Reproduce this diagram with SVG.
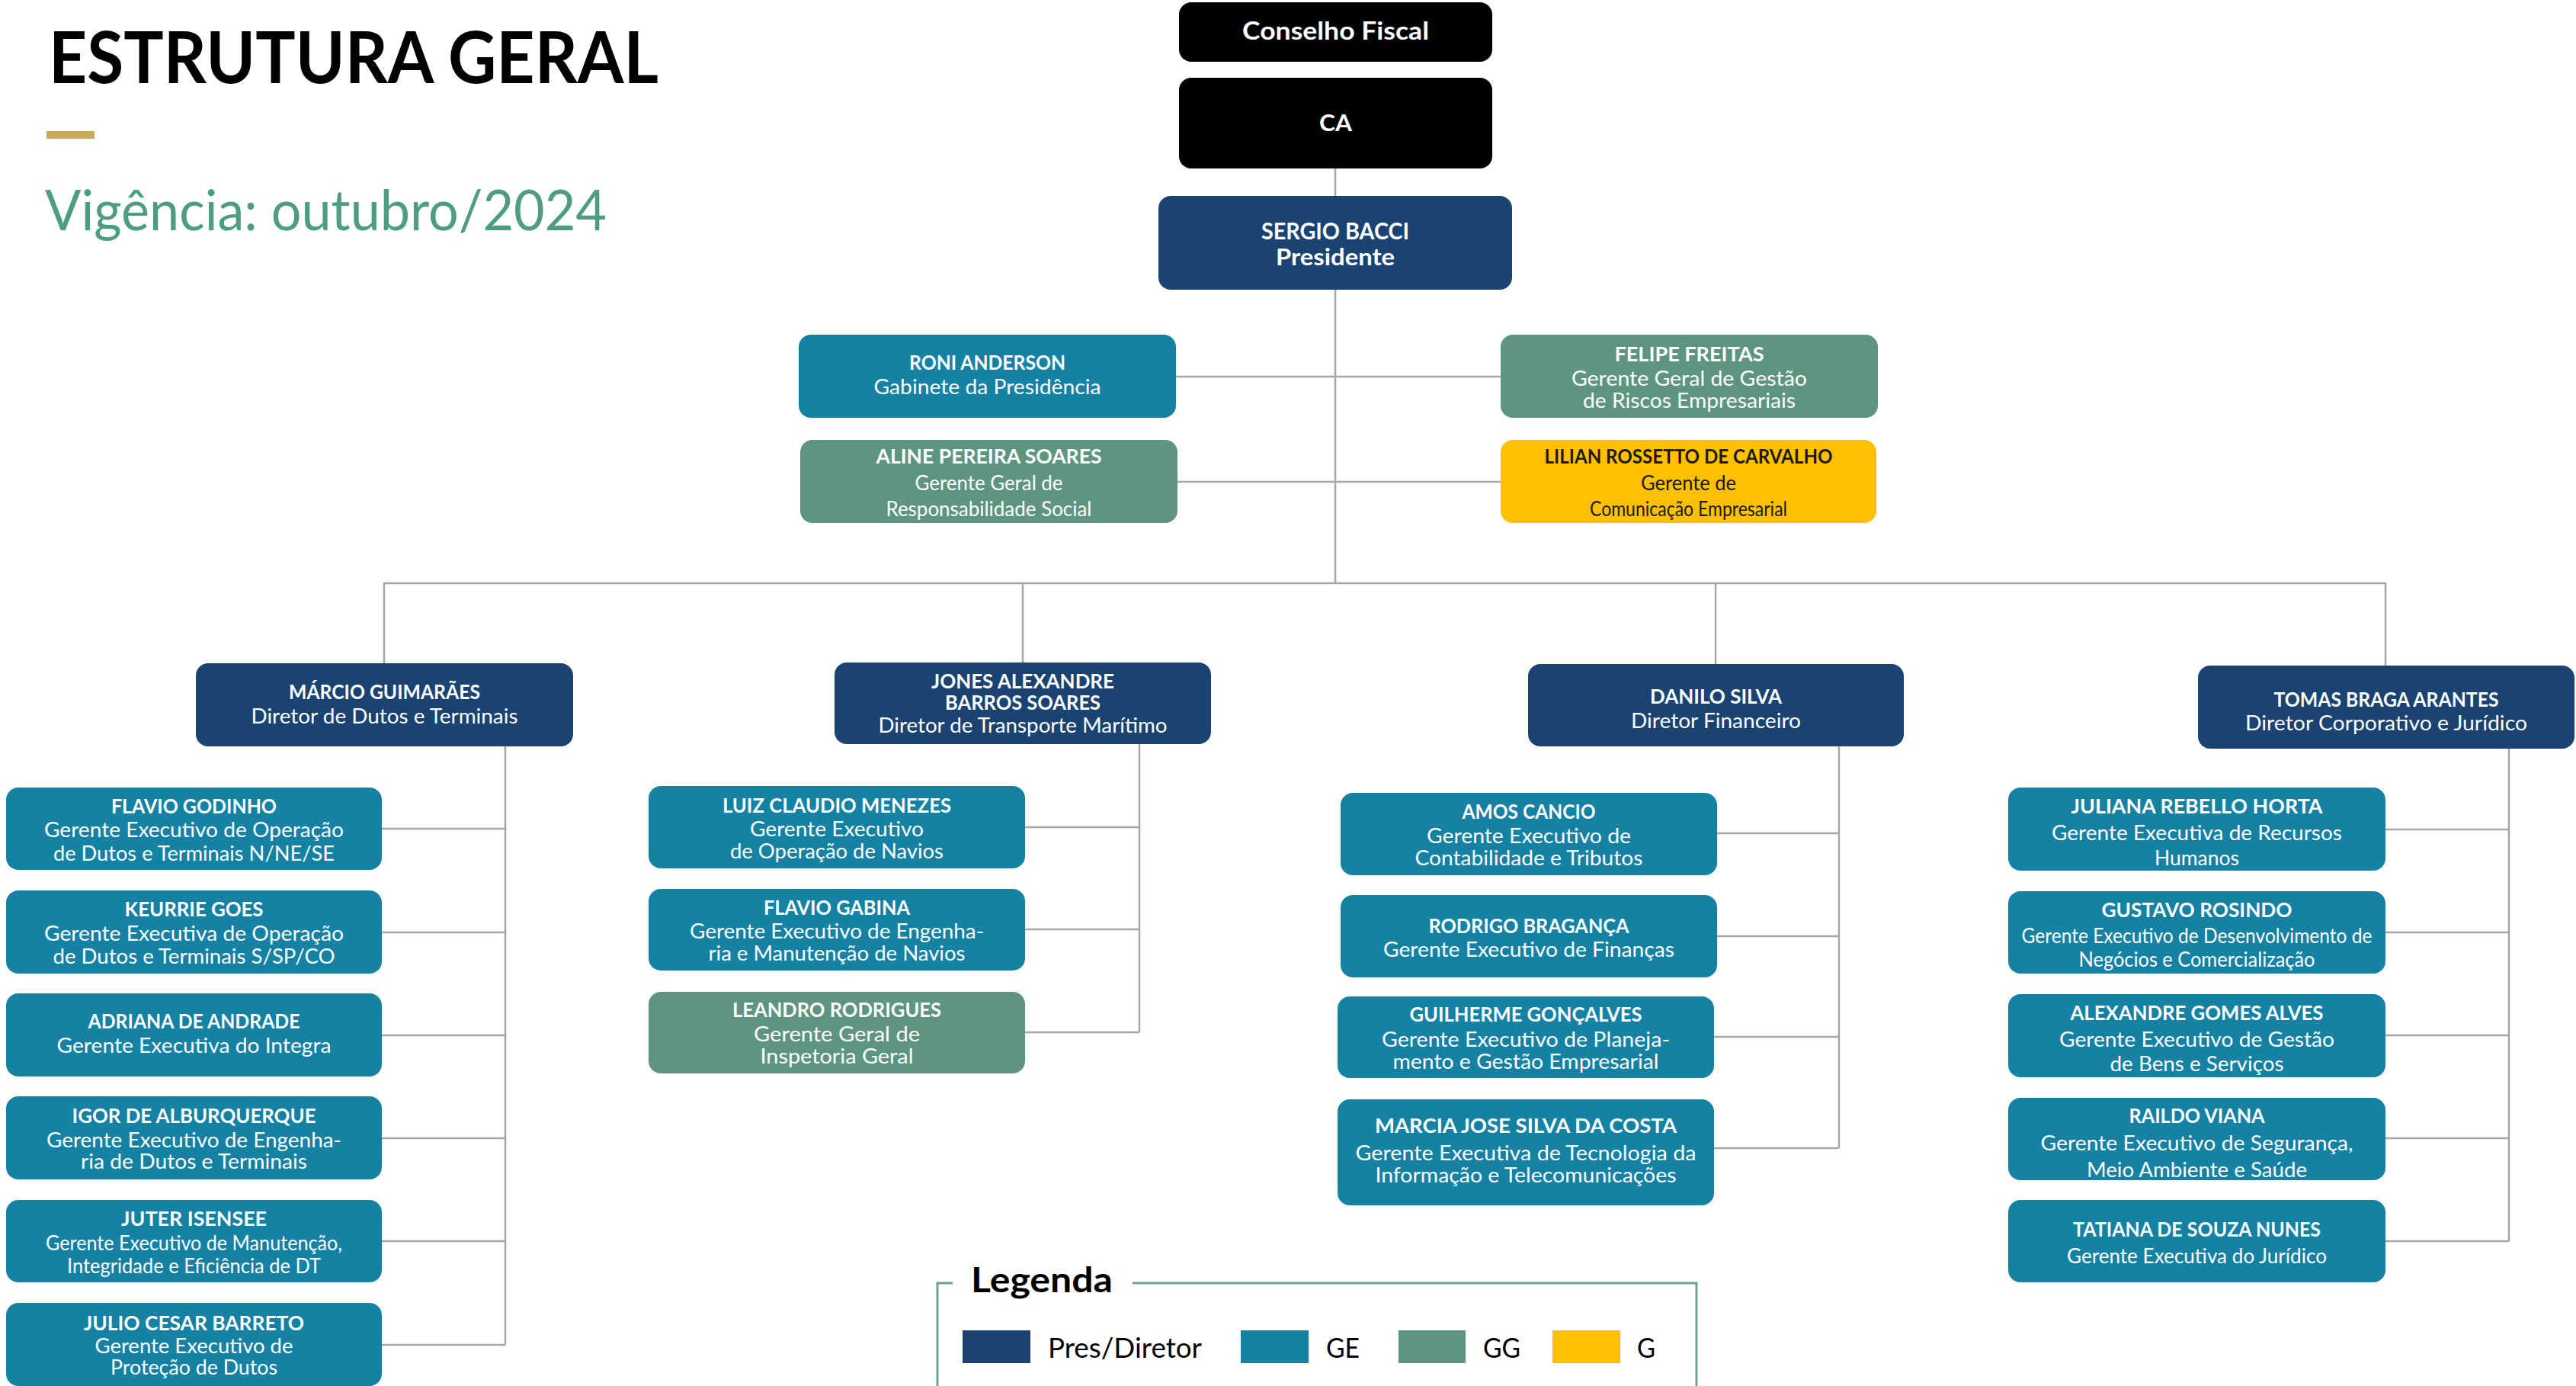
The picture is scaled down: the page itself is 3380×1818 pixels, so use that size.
<svg xmlns="http://www.w3.org/2000/svg" width="3380" height="1818" viewBox="0 0 3380 1818">
<style>
text{font-family:Lato,"Liberation Sans",sans-serif;text-anchor:middle}
.b{font-weight:bold}
.w{fill:#fff;font-size:27px}
.k{fill:#1a1a1a;font-size:27px}
.navy{fill:#1b4371}
.ge{fill:#1582a3}
.gg{fill:#5e9580}
.g{fill:#ffc000}
.blk{fill:#000}
.con{stroke:#a6a6a6;stroke-width:2.5;fill:none}
.lg{font-size:36px;fill:#000;text-anchor:start}
</style>
<rect width="3380" height="1818" fill="#fff"/>
<g id="header">
<text x="64" y="109" class="b" style="font-size:94px;text-anchor:start" fill="#000" textLength="800" lengthAdjust="spacingAndGlyphs">ESTRUTURA GERAL</text>
<rect x="61" y="172" width="63" height="10" fill="#c9a95a"/>
<text x="59" y="302" style="font-size:74px;text-anchor:start" fill="#4f9c84" textLength="737" lengthAdjust="spacingAndGlyphs">Vigência: outubro/2024</text>
</g>
<g id="connectors">
<path class="con" d="M1752 221V257M1752 380V765M1543 494H1969M1545 632H1969"/>
<path class="con" d="M504 870V765H3130V873M1342 765V869M2251 765V871"/>
<path class="con" d="M663 979V1764M501 1087H663M501 1223H663M501 1358H663M501 1493H663M501 1628H663M501 1764H663"/>
<path class="con" d="M1495 976V1354M1345 1085H1495M1345 1219H1495M1345 1354H1495"/>
<path class="con" d="M2413 979V1506M2253 1093H2413M2253 1228H2413M2249 1360H2413M2249 1506H2413"/>
<path class="con" d="M3292 982V1628M3130 1088H3292M3130 1223H3292M3130 1358H3292M3130 1493H3292M3130 1628H3292"/>
</g>
<g id="conselho"><rect class="blk" x="1547" y="3" width="411" height="78" rx="16"/><text class="w b" x="1752.5" y="52" style="font-size:33px" textLength="245" lengthAdjust="spacingAndGlyphs">Conselho Fiscal</text></g>
<g id="ca"><rect class="blk" x="1547" y="102" width="411" height="119" rx="16"/><text class="w b" x="1752.5" y="172" style="font-size:31px" textLength="43" lengthAdjust="spacingAndGlyphs">CA</text></g>
<g id="sergio"><rect class="navy" x="1520" y="257" width="464" height="123" rx="16"/><text class="w b" x="1752" y="314" style="font-size:30px" textLength="194" lengthAdjust="spacingAndGlyphs">SERGIO BACCI</text><text class="w b" x="1752" y="348" style="font-size:30px" textLength="156" lengthAdjust="spacingAndGlyphs">Presidente</text></g>
<g id="roni"><rect class="ge" x="1048" y="439" width="495" height="109" rx="16"/><text class="w b" x="1295.5" y="485" textLength="205" lengthAdjust="spacingAndGlyphs">RONI ANDERSON</text><text class="w" x="1295.5" y="517" textLength="298" lengthAdjust="spacingAndGlyphs">Gabinete da Presidência</text></g>
<g id="felipe"><rect class="gg" x="1969" y="439" width="495" height="109" rx="16"/><text class="w b" x="2216.5" y="474" textLength="196" lengthAdjust="spacingAndGlyphs">FELIPE FREITAS</text><text class="w" x="2216.5" y="506" textLength="309" lengthAdjust="spacingAndGlyphs">Gerente Geral de Gestão</text><text class="w" x="2216.5" y="535" textLength="279" lengthAdjust="spacingAndGlyphs">de Riscos Empresariais</text></g>
<g id="aline"><rect class="gg" x="1050" y="577" width="495" height="109" rx="16"/><text class="w b" x="1297.5" y="608" textLength="296" lengthAdjust="spacingAndGlyphs">ALINE PEREIRA SOARES</text><text class="w" x="1297.5" y="643" textLength="194" lengthAdjust="spacingAndGlyphs">Gerente Geral de</text><text class="w" x="1297.5" y="677" textLength="270" lengthAdjust="spacingAndGlyphs">Responsabilidade Social</text></g>
<g id="lilian"><rect class="g" x="1969" y="577" width="493" height="109" rx="16"/><text class="k b" x="2215.5" y="608" textLength="378" lengthAdjust="spacingAndGlyphs">LILIAN ROSSETTO DE CARVALHO</text><text class="k" x="2215.5" y="643" textLength="125" lengthAdjust="spacingAndGlyphs">Gerente de</text><text class="k" x="2215.5" y="677" textLength="259" lengthAdjust="spacingAndGlyphs">Comunicação Empresarial</text></g>
<g id="marcio"><rect class="navy" x="257" y="870" width="495" height="109" rx="16"/><text class="w b" x="504.5" y="917" textLength="251" lengthAdjust="spacingAndGlyphs">MÁRCIO GUIMARÃES</text><text class="w" x="504.5" y="949" textLength="350" lengthAdjust="spacingAndGlyphs">Diretor de Dutos e Terminais</text></g>
<g id="jones"><rect class="navy" x="1095" y="869" width="494" height="107" rx="16"/><text class="w b" x="1342" y="903" textLength="240" lengthAdjust="spacingAndGlyphs">JONES ALEXANDRE</text><text class="w b" x="1342" y="931" textLength="204" lengthAdjust="spacingAndGlyphs">BARROS SOARES</text><text class="w" x="1342" y="961" textLength="379" lengthAdjust="spacingAndGlyphs">Diretor de Transporte Marítimo</text></g>
<g id="danilo"><rect class="navy" x="2005" y="871" width="493" height="108" rx="16"/><text class="w b" x="2251.5" y="923" textLength="173" lengthAdjust="spacingAndGlyphs">DANILO SILVA</text><text class="w" x="2251.5" y="955" textLength="223" lengthAdjust="spacingAndGlyphs">Diretor Financeiro</text></g>
<g id="tomas"><rect class="navy" x="2884" y="873" width="494" height="109" rx="16"/><text class="w b" x="3131" y="927" textLength="295" lengthAdjust="spacingAndGlyphs">TOMAS BRAGA ARANTES</text><text class="w" x="3131" y="958" textLength="370" lengthAdjust="spacingAndGlyphs">Diretor Corporativo e Jurídico</text></g>
<g id="flavio-godinho"><rect class="ge" x="8" y="1033" width="493" height="108" rx="16"/><text class="w b" x="254.5" y="1067" textLength="217" lengthAdjust="spacingAndGlyphs">FLAVIO GODINHO</text><text class="w" x="254.5" y="1098" textLength="393" lengthAdjust="spacingAndGlyphs">Gerente Executivo de Operação</text><text class="w" x="254.5" y="1129" textLength="369" lengthAdjust="spacingAndGlyphs">de Dutos e Terminais N/NE/SE</text></g>
<g id="keurrie"><rect class="ge" x="8" y="1168" width="493" height="109" rx="16"/><text class="w b" x="254.5" y="1202" textLength="182" lengthAdjust="spacingAndGlyphs">KEURRIE GOES</text><text class="w" x="254.5" y="1234" textLength="393" lengthAdjust="spacingAndGlyphs">Gerente Executiva de Operação</text><text class="w" x="254.5" y="1264" textLength="370" lengthAdjust="spacingAndGlyphs">de Dutos e Terminais S/SP/CO</text></g>
<g id="adriana"><rect class="ge" x="8" y="1303" width="493" height="109" rx="16"/><text class="w b" x="254.5" y="1349" textLength="278" lengthAdjust="spacingAndGlyphs">ADRIANA DE ANDRADE</text><text class="w" x="254.5" y="1381" textLength="360" lengthAdjust="spacingAndGlyphs">Gerente Executiva do Integra</text></g>
<g id="igor"><rect class="ge" x="8" y="1438" width="493" height="109" rx="16"/><text class="w b" x="254.5" y="1473" textLength="320" lengthAdjust="spacingAndGlyphs">IGOR DE ALBURQUERQUE</text><text class="w" x="254.5" y="1505" textLength="387" lengthAdjust="spacingAndGlyphs">Gerente Executivo de Engenha-</text><text class="w" x="254.5" y="1533" textLength="297" lengthAdjust="spacingAndGlyphs">ria de Dutos e Terminais</text></g>
<g id="juter"><rect class="ge" x="8" y="1574" width="493" height="108" rx="16"/><text class="w b" x="254.5" y="1608" textLength="191" lengthAdjust="spacingAndGlyphs">JUTER ISENSEE</text><text class="w" x="254.5" y="1640" textLength="389" lengthAdjust="spacingAndGlyphs">Gerente Executivo de Manutenção,</text><text class="w" x="254.5" y="1670" textLength="333" lengthAdjust="spacingAndGlyphs">Integridade e Eficiência de DT</text></g>
<g id="julio"><rect class="ge" x="8" y="1709" width="493" height="109" rx="16"/><text class="w b" x="254.5" y="1745" textLength="289" lengthAdjust="spacingAndGlyphs">JULIO CESAR BARRETO</text><text class="w" x="254.5" y="1775" textLength="260" lengthAdjust="spacingAndGlyphs">Gerente Executivo de</text><text class="w" x="254.5" y="1803" textLength="219" lengthAdjust="spacingAndGlyphs">Proteção de Dutos</text></g>
<g id="luiz"><rect class="ge" x="851" y="1031" width="494" height="108" rx="16"/><text class="w b" x="1098" y="1066" textLength="300" lengthAdjust="spacingAndGlyphs">LUIZ CLAUDIO MENEZES</text><text class="w" x="1098" y="1097" textLength="228" lengthAdjust="spacingAndGlyphs">Gerente Executivo</text><text class="w" x="1098" y="1126" textLength="280" lengthAdjust="spacingAndGlyphs">de Operação de Navios</text></g>
<g id="flavio-gabina"><rect class="ge" x="851" y="1166" width="494" height="107" rx="16"/><text class="w b" x="1098" y="1200" textLength="192" lengthAdjust="spacingAndGlyphs">FLAVIO GABINA</text><text class="w" x="1098" y="1231" textLength="386" lengthAdjust="spacingAndGlyphs">Gerente Executivo de Engenha-</text><text class="w" x="1098" y="1260" textLength="337" lengthAdjust="spacingAndGlyphs">ria e Manutenção de Navios</text></g>
<g id="leandro"><rect class="gg" x="851" y="1301" width="494" height="107" rx="16"/><text class="w b" x="1098" y="1334" textLength="274" lengthAdjust="spacingAndGlyphs">LEANDRO RODRIGUES</text><text class="w" x="1098" y="1366" textLength="218" lengthAdjust="spacingAndGlyphs">Gerente Geral de</text><text class="w" x="1098" y="1395" textLength="201" lengthAdjust="spacingAndGlyphs">Inspetoria Geral</text></g>
<g id="amos"><rect class="ge" x="1759" y="1040" width="494" height="108" rx="16"/><text class="w b" x="2006" y="1074" textLength="175" lengthAdjust="spacingAndGlyphs">AMOS CANCIO</text><text class="w" x="2006" y="1106" textLength="268" lengthAdjust="spacingAndGlyphs">Gerente Executivo de</text><text class="w" x="2006" y="1135" textLength="299" lengthAdjust="spacingAndGlyphs">Contabilidade e Tributos</text></g>
<g id="rodrigo"><rect class="ge" x="1759" y="1174" width="494" height="108" rx="16"/><text class="w b" x="2006" y="1224" textLength="263" lengthAdjust="spacingAndGlyphs">RODRIGO BRAGANÇA</text><text class="w" x="2006" y="1255" textLength="382" lengthAdjust="spacingAndGlyphs">Gerente Executivo de Finanças</text></g>
<g id="guilherme"><rect class="ge" x="1755" y="1307" width="494" height="107" rx="16"/><text class="w b" x="2002" y="1340" textLength="305" lengthAdjust="spacingAndGlyphs">GUILHERME GONÇALVES</text><text class="w" x="2002" y="1373" textLength="378" lengthAdjust="spacingAndGlyphs">Gerente Executivo de Planeja-</text><text class="w" x="2002" y="1402" textLength="349" lengthAdjust="spacingAndGlyphs">mento e Gestão Empresarial</text></g>
<g id="marcia"><rect class="ge" x="1755" y="1442" width="494" height="139" rx="16"/><text class="w b" x="2002" y="1486" textLength="396" lengthAdjust="spacingAndGlyphs">MARCIA JOSE SILVA DA COSTA</text><text class="w" x="2002" y="1522" textLength="447" lengthAdjust="spacingAndGlyphs">Gerente Executiva de  Tecnologia da</text><text class="w" x="2002" y="1551" textLength="395" lengthAdjust="spacingAndGlyphs">Informação e Telecomunicações</text></g>
<g id="juliana"><rect class="ge" x="2635" y="1033" width="495" height="109" rx="16"/><text class="w b" x="2882.5" y="1067" textLength="330" lengthAdjust="spacingAndGlyphs">JULIANA REBELLO HORTA</text><text class="w" x="2882.5" y="1102" textLength="381" lengthAdjust="spacingAndGlyphs">Gerente Executiva de Recursos</text><text class="w" x="2882.5" y="1135" textLength="111" lengthAdjust="spacingAndGlyphs">Humanos</text></g>
<g id="gustavo"><rect class="ge" x="2635" y="1169" width="495" height="108" rx="16"/><text class="w b" x="2882.5" y="1203" textLength="250" lengthAdjust="spacingAndGlyphs">GUSTAVO ROSINDO</text><text class="w" x="2882.5" y="1237" textLength="460" lengthAdjust="spacingAndGlyphs">Gerente Executivo de Desenvolvimento de</text><text class="w" x="2882.5" y="1268" textLength="310" lengthAdjust="spacingAndGlyphs">Negócios e Comercialização</text></g>
<g id="alexandre"><rect class="ge" x="2635" y="1304" width="495" height="109" rx="16"/><text class="w b" x="2882.5" y="1338" textLength="332" lengthAdjust="spacingAndGlyphs">ALEXANDRE GOMES ALVES</text><text class="w" x="2882.5" y="1373" textLength="361" lengthAdjust="spacingAndGlyphs">Gerente Executivo de Gestão</text><text class="w" x="2882.5" y="1405" textLength="228" lengthAdjust="spacingAndGlyphs">de Bens e Serviços</text></g>
<g id="raildo"><rect class="ge" x="2635" y="1440" width="495" height="108" rx="16"/><text class="w b" x="2882.5" y="1473" textLength="178" lengthAdjust="spacingAndGlyphs">RAILDO VIANA</text><text class="w" x="2882.5" y="1509" textLength="410" lengthAdjust="spacingAndGlyphs">Gerente Executivo de Segurança,</text><text class="w" x="2882.5" y="1544" textLength="289" lengthAdjust="spacingAndGlyphs">Meio Ambiente e Saúde</text></g>
<g id="tatiana"><rect class="ge" x="2635" y="1574" width="495" height="108" rx="16"/><text class="w b" x="2882.5" y="1622" textLength="325" lengthAdjust="spacingAndGlyphs">TATIANA DE SOUZA NUNES</text><text class="w" x="2882.5" y="1657" textLength="341" lengthAdjust="spacingAndGlyphs">Gerente Executiva do Jurídico</text></g>
<g id="legend">
<path d="M1250 1683H1230V1818M1486 1683H2226V1818" fill="none" stroke="#6aa592" stroke-width="3"/>
<text x="1274" y="1695" class="b" style="font-size:46px;text-anchor:start" fill="#000" textLength="186" lengthAdjust="spacingAndGlyphs">Legenda</text>
<rect class="navy" x="1263" y="1745" width="89" height="43"/>
<text class="lg" x="1375" y="1781" textLength="202" lengthAdjust="spacingAndGlyphs">Pres/Diretor</text>
<rect class="ge" x="1628" y="1745" width="89" height="43"/>
<text class="lg" x="1740" y="1781" textLength="44" lengthAdjust="spacingAndGlyphs">GE</text>
<rect class="gg" x="1835" y="1745" width="88" height="43"/>
<text class="lg" x="1946" y="1781" textLength="49" lengthAdjust="spacingAndGlyphs">GG</text>
<rect class="g" x="2037" y="1745" width="89" height="43"/>
<text class="lg" x="2148" y="1781" textLength="24" lengthAdjust="spacingAndGlyphs">G</text>
</g>
</svg>
